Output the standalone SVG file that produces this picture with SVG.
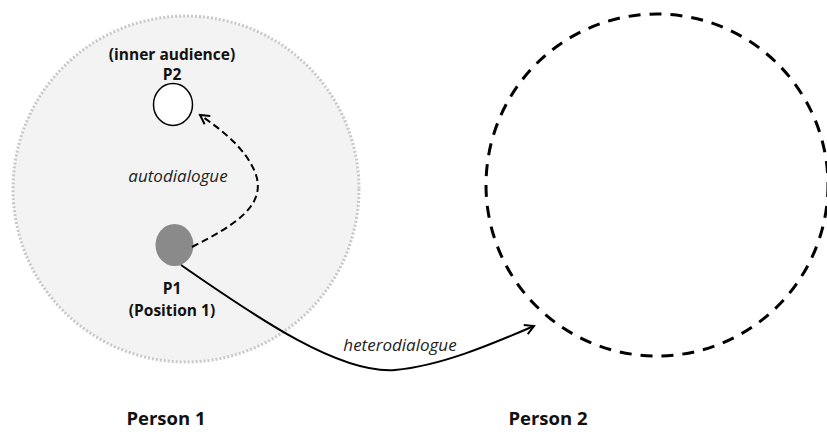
<svg xmlns="http://www.w3.org/2000/svg" width="827" height="438" viewBox="0 0 827 438">
<style>
.lbl{font-family:"Open Sans","Liberation Sans",sans-serif;font-weight:bold;font-size:15.5px;fill:#111;text-anchor:middle}
.big{font-family:"Open Sans","Liberation Sans",sans-serif;font-weight:bold;font-size:18.5px;fill:#111;text-anchor:middle}
.it{font-family:"Open Sans","Liberation Sans",sans-serif;font-style:italic;font-size:17px;fill:#222;text-anchor:middle}
.conn{fill:none;stroke:#000;stroke-width:2}
</style>
<defs>
<marker id="arr" viewBox="0 0 12 12" refX="10" refY="6" markerWidth="12" markerHeight="12" markerUnits="userSpaceOnUse" orient="auto">
<polyline points="1,1 10,6 1,11" fill="none" stroke="#000" stroke-width="2"/>
</marker>
</defs>
<g id="person1">
<circle cx="186" cy="189" r="173" fill="#f3f3f3" stroke="#c8c8c8" stroke-width="3" stroke-dasharray="2 2"/>
<text class="big" x="166" y="425">Person 1</text>
</g>
<g id="person2">
<circle cx="657" cy="185" r="171" fill="none" stroke="#000" stroke-width="3" stroke-dasharray="12 9"/>
<text class="big" x="548" y="425">Person 2</text>
</g>
<g id="p2">
<ellipse cx="173" cy="104.5" rx="19.5" ry="21" fill="#fff" stroke="#000" stroke-width="1.5"/>
<text class="lbl" x="172" y="60">(inner audience)</text>
<text class="lbl" x="172" y="80">P2</text>
</g>
<g id="p1">
<ellipse cx="174.5" cy="245" rx="19" ry="21" fill="#8a8a8a"/>
<text class="lbl" x="172" y="294">P1</text>
<text class="lbl" x="172" y="316">(Position 1)</text>
</g>
<g id="connectors">
<path class="conn" stroke-dasharray="7 4" d="M192,247 C235,225 268,205 255,172 C245,148 222,130 200,115" marker-end="url(#arr)"/>
<path class="conn" d="M181,265 C260,320 340,374 395,370 C440,366 490,345 534,326" marker-end="url(#arr)"/>
<text class="it" x="178" y="182">autodialogue</text>
<text class="it" x="400" y="351">heterodialogue</text>
</g>
</svg>
